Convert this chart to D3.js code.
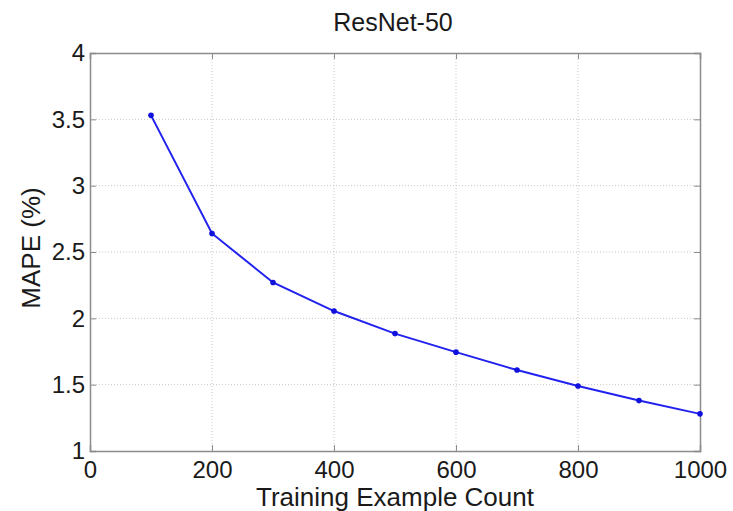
<!DOCTYPE html>
<html>
<head>
<meta charset="utf-8">
<script src="https://cdn.jsdelivr.net/npm/d3@7"></script>
<style>
  body { margin: 0; background: #fff; }
  text { font-family: "Liberation Sans", Arial, sans-serif; fill: #1a1a1a; }
</style>
</head>
<body>
<svg id="chart" width="733" height="511"></svg>
<script>
// data
var counts = [100, 200, 300, 400, 500, 600, 700, 800, 900, 1000];
var mape = [3.53, 2.64, 2.27, 2.055, 1.885, 1.745, 1.61, 1.49, 1.38, 1.28];
var xTicks = [0, 200, 400, 600, 800, 1000];
var yTicks = [1, 1.5, 2, 2.5, 3, 3.5, 4];

var plotLeft = 90, plotRight = 700, plotTop = 53, plotBottom = 451;

var svg = d3.select("#chart");

var x = d3.scaleLinear().domain([0, 1000]).range([plotLeft, plotRight]);
var y = d3.scaleLinear().domain([1, 4]).range([plotBottom, plotTop]);

// grid
svg.append("g").selectAll("line")
  .data(xTicks.slice(1, -1))
  .enter().append("line")
  .attr("x1", function(d) { return x(d); })
  .attr("x2", function(d) { return x(d); })
  .attr("y1", plotTop).attr("y2", plotBottom)
  .attr("stroke", "#c8c8c8").attr("stroke-width", 1)
  .attr("stroke-dasharray", "1,2");

svg.append("g").selectAll("line")
  .data(yTicks.slice(1, -1))
  .enter().append("line")
  .attr("y1", function(d) { return y(d); })
  .attr("y2", function(d) { return y(d); })
  .attr("x1", plotLeft).attr("x2", plotRight)
  .attr("stroke", "#c8c8c8").attr("stroke-width", 1)
  .attr("stroke-dasharray", "1,2");

// axes, ticks pointing inward like matlab
var xAxis = svg.append("g")
  .attr("transform", "translate(0," + plotBottom + ")")
  .call(d3.axisBottom(x).tickValues(xTicks).tickSize(-6).tickPadding(10).tickFormat(d3.format("d")));
var xTop = svg.append("g")
  .attr("transform", "translate(0," + plotTop + ")")
  .call(d3.axisTop(x).tickValues(xTicks).tickSize(-6).tickFormat(""));
var yAxis = svg.append("g")
  .attr("transform", "translate(" + plotLeft + ",0)")
  .call(d3.axisLeft(y).tickValues(yTicks).tickSize(-6).tickPadding(5).tickFormat(d3.format("")));
var yRight = svg.append("g")
  .attr("transform", "translate(" + plotRight + ",0)")
  .call(d3.axisRight(y).tickValues(yTicks).tickSize(-6).tickFormat(""));

[xAxis, xTop, yAxis, yRight].forEach(function(a) {
  a.select(".domain").attr("stroke", "#8c8c8c").attr("stroke-width", 1.5);
  a.selectAll(".tick line").attr("stroke", "#8c8c8c");
  a.selectAll("text").style("font-size", "24px").attr("fill", "#1a1a1a");
});

// the curve
var line = d3.line()
  .x(function(d, i) { return x(counts[i]); })
  .y(function(d) { return y(d); });

svg.append("path")
  .datum(mape)
  .attr("d", line)
  .attr("fill", "none")
  .attr("stroke", "#2222ee")
  .attr("stroke-width", 2);

svg.append("g").selectAll("circle")
  .data(mape)
  .enter().append("circle")
  .attr("cx", function(d, i) { return x(counts[i]); })
  .attr("cy", function(d) { return y(d); })
  .attr("r", 2.8)
  .attr("fill", "#1111dd");

// labels
svg.append("text")
  .attr("x", 393).attr("y", 31)
  .attr("text-anchor", "middle")
  .style("font-size", "25px")
  .text("ResNet-50");

svg.append("text")
  .attr("x", 395).attr("y", 506)
  .attr("text-anchor", "middle")
  .style("font-size", "26px")
  .text("Training Example Count");

svg.append("text")
  .attr("transform", "translate(40,248) rotate(-90)")
  .attr("text-anchor", "middle")
  .style("font-size", "26px")
  .text("MAPE (%)");
</script>
</body>
</html>
